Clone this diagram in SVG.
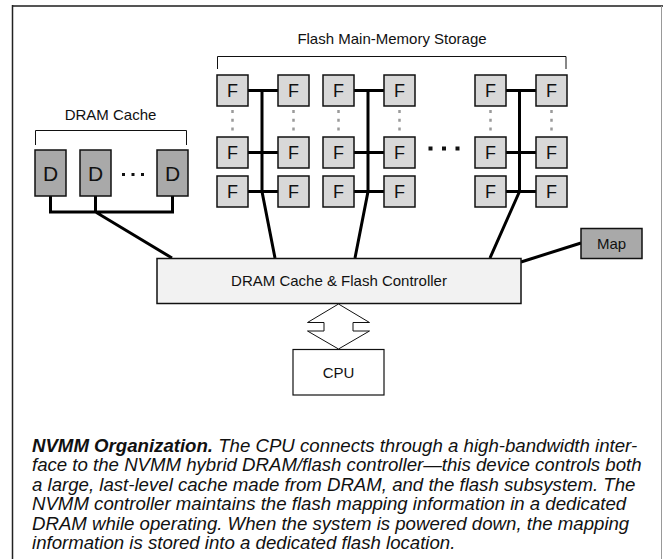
<svg xmlns="http://www.w3.org/2000/svg" width="663" height="559" viewBox="0 0 663 559">
  <style>
    .lbl { font-family: "Liberation Sans", Arial, Helvetica, sans-serif; font-size: 15px; fill: #111; text-anchor: middle; }
    .ftxt { font-family: "Liberation Sans", Arial, sans-serif; font-size: 18px; fill: #111; text-anchor: middle; }
    .dtxt { font-family: "Liberation Sans", Arial, sans-serif; font-size: 21px; fill: #111; text-anchor: middle; }
    .flash { fill: #d8d8d8; stroke: #111; stroke-width: 1.5; }
    .dram { fill: #a9a9a9; stroke: #111; stroke-width: 1.5; }
    .bus { fill: none; stroke: #000; stroke-width: 3; }
    .brk { fill: none; stroke: #111; stroke-width: 1; }
    .dots { stroke: #9a9a9a; stroke-width: 2.5; stroke-dasharray: 3 5.7; }
    .cap { font-family: "Liberation Sans", Arial, Helvetica, sans-serif; font-size: 17.5px; font-style: italic; fill: #111; }
  </style>
  <defs>
    <g id="fbox">
      <rect class="flash" x="0" y="0" width="31" height="31"/>
      <text class="ftxt" x="15.5" y="22">F</text>
    </g>
  </defs>

  <rect x="0" y="0" width="663" height="559" fill="#fff"/>
  <!-- frame -->
  <line x1="12" y1="6" x2="663" y2="6" stroke="#555" stroke-width="2"/>
  <line x1="12.5" y1="5" x2="12.5" y2="559" stroke="#222" stroke-width="1.5"/>
  <line x1="661.5" y1="6" x2="661.5" y2="559" stroke="#999" stroke-width="1"/>

  <!-- brackets and group labels -->
  <g id="dram-cache-label">
    <path class="brk" d="M35.5,145 V130.5 H186.5 V145"/>
    <text class="lbl" x="110.5" y="120">DRAM Cache</text>
  </g>
  <g id="flash-storage-label">
    <path class="brk" d="M217.5,69 V56.5 H566 V69"/>
    <text class="lbl" x="392" y="44">Flash Main-Memory Storage</text>
  </g>

  <!-- connectors -->
  <g id="connectors">
    <!-- DRAM bus -->
    <path class="bus" d="M50.5,196 V212 H172.5 V196 M95.5,196 V212 L172,258"/>
    <!-- flash channel buses -->
    <path class="bus" d="M248,90.5 H278 M248,152.5 H278 M248,191.5 H278 M262,90.5 V191.5 L275,258"/>
    <path class="bus" d="M354,90.5 H384 M354,152.5 H384 M354,191.5 H384 M368,90.5 V191.5 L355,258"/>
    <path class="bus" d="M506,90.5 H536 M506,152.5 H536 M506,191.5 H536 M519.5,90.5 V191.5 L490,258"/>
    <!-- map link -->
    <path class="bus" d="M521,262 L581,243"/>
    <!-- CPU interface -->
    <polygon points="338.5,304 307.5,322.5 324,322.5 324,331 307.5,331 338.5,349 369.5,331 353,331 353,322.5 369.5,322.5" fill="#fff" stroke="#111" stroke-width="1"/>
    <!-- omitted rows -->
    <line class="dots" x1="232.5" y1="110" x2="232.5" y2="133"/>
    <line class="dots" x1="293.5" y1="110" x2="293.5" y2="133"/>
    <line class="dots" x1="338.5" y1="110" x2="338.5" y2="133"/>
    <line class="dots" x1="399.5" y1="110" x2="399.5" y2="133"/>
    <line class="dots" x1="490.5" y1="110" x2="490.5" y2="133"/>
    <line class="dots" x1="551.5" y1="110" x2="551.5" y2="133"/>
    <!-- omitted channels -->
    <rect x="428.5" y="146.5" width="4" height="4" fill="#111"/>
    <rect x="442" y="146.5" width="4" height="4" fill="#111"/>
    <rect x="455.5" y="146.5" width="4" height="4" fill="#111"/>
    <!-- omitted DRAM devices -->
    <rect x="122" y="173" width="3" height="3" fill="#111"/>
    <rect x="131.5" y="173" width="3" height="3" fill="#111"/>
    <rect x="141" y="173" width="3" height="3" fill="#111"/>
  </g>

  <!-- DRAM devices -->
  <g id="d1"><rect class="dram" x="35" y="150" width="31" height="46"/><text class="dtxt" x="50.5" y="181">D</text></g>
  <g id="d2"><rect class="dram" x="80" y="150" width="31" height="46"/><text class="dtxt" x="95.5" y="181">D</text></g>
  <g id="d3"><rect class="dram" x="157" y="150" width="31" height="46"/><text class="dtxt" x="172.5" y="181">D</text></g>

  <!-- flash devices -->
  <g id="f-col1"><use href="#fbox" x="217" y="75"/><use href="#fbox" x="217" y="137"/><use href="#fbox" x="217" y="176"/></g>
  <g id="f-col2"><use href="#fbox" x="278" y="75"/><use href="#fbox" x="278" y="137"/><use href="#fbox" x="278" y="176"/></g>
  <g id="f-col3"><use href="#fbox" x="323" y="75"/><use href="#fbox" x="323" y="137"/><use href="#fbox" x="323" y="176"/></g>
  <g id="f-col4"><use href="#fbox" x="384" y="75"/><use href="#fbox" x="384" y="137"/><use href="#fbox" x="384" y="176"/></g>
  <g id="f-col5"><use href="#fbox" x="475" y="75"/><use href="#fbox" x="475" y="137"/><use href="#fbox" x="475" y="176"/></g>
  <g id="f-col6"><use href="#fbox" x="536" y="75"/><use href="#fbox" x="536" y="137"/><use href="#fbox" x="536" y="176"/></g>

  <!-- controller -->
  <g id="controller">
    <rect x="157" y="258.5" width="364" height="45" fill="#f2f2f2" stroke="#111" stroke-width="1.5"/>
    <text class="lbl" x="339" y="286">DRAM Cache &amp; Flash Controller</text>
  </g>

  <!-- mapping DRAM -->
  <g id="map">
    <rect class="dram" x="581" y="228.5" width="61" height="30"/>
    <text class="lbl" x="611.5" y="248.5">Map</text>
  </g>

  <!-- CPU -->
  <g id="cpu">
    <rect x="293" y="349.5" width="91" height="45.5" fill="#fff" stroke="#111" stroke-width="1.2"/>
    <text class="lbl" x="338.5" y="377.5">CPU</text>
  </g>

  <!-- caption -->
  <g id="caption" class="cap" transform="translate(32,0) scale(1.065,1)">
    <text x="0" y="452"><tspan font-weight="bold">NVMM Organization.</tspan> The CPU connects through a high-bandwidth inter-</text>
    <text x="0" y="471.5">face to the NVMM hybrid DRAM/flash controller—this device controls both</text>
    <text x="0" y="491">a large, last-level cache made from DRAM, and the flash subsystem. The</text>
    <text x="0" y="510.5">NVMM controller maintains the flash mapping information in a dedicated</text>
    <text x="0" y="530">DRAM while operating. When the system is powered down, the mapping</text>
    <text x="0" y="549.5">information is stored into a dedicated flash location.</text>
  </g>
</svg>
